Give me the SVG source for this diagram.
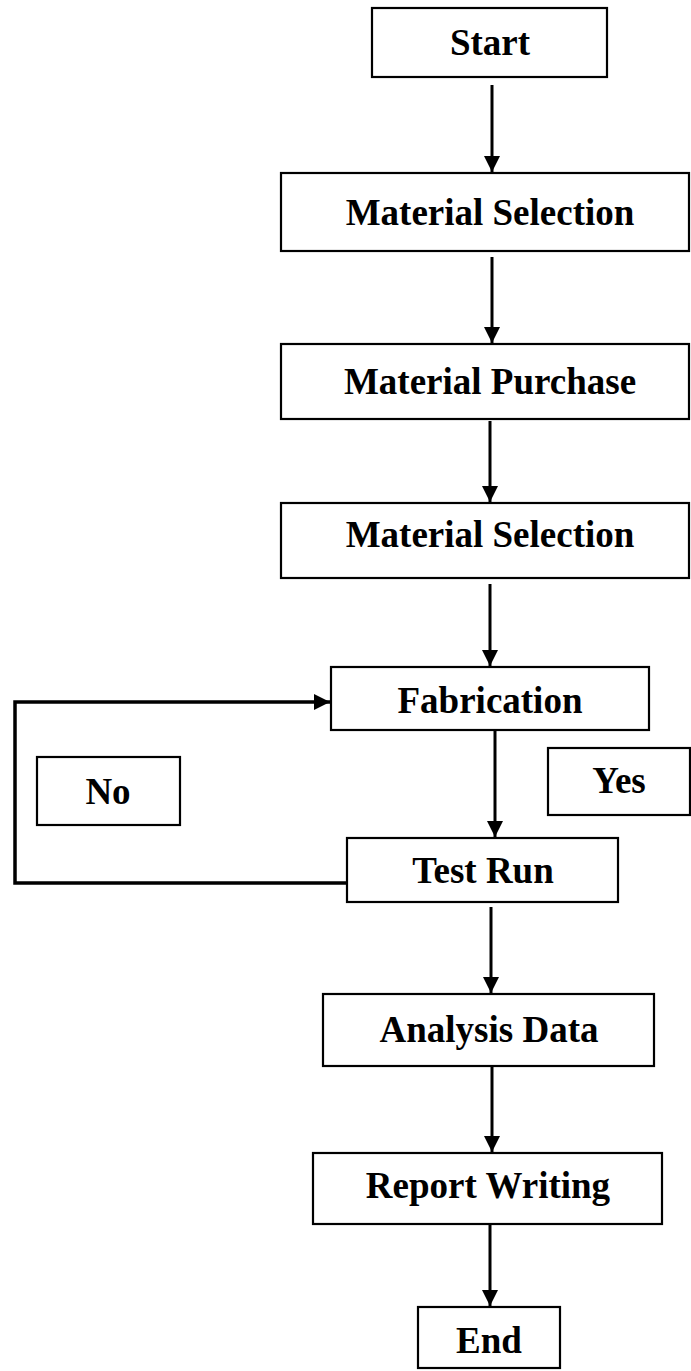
<svg xmlns="http://www.w3.org/2000/svg" width="691" height="1371" viewBox="0 0 691 1371">
  <style>
    .box { fill: #ffffff; stroke: #000000; stroke-width: 2.2; }
    .lbl { font-family: "Liberation Serif", "Times New Roman", serif; font-weight: bold; font-size: 37px; fill: #000000; text-anchor: middle; }
    .conn { fill: none; stroke: #000000; stroke-width: 3; }
    .loop { fill: none; stroke: #000000; stroke-width: 3.5; }
  </style>
  <defs>
    <marker id="arrow" markerUnits="userSpaceOnUse" markerWidth="16" markerHeight="16" refX="16" refY="8" orient="auto">
      <path d="M0,0 L16,8 L0,16 z" fill="#000000"/>
    </marker>
  </defs>
  <rect x="0" y="0" width="691" height="1371" fill="#ffffff"/>

  <g id="connectors">
    <line class="conn" x1="492" y1="85" x2="492" y2="172" marker-end="url(#arrow)"/>
    <line class="conn" x1="492" y1="257" x2="492" y2="343" marker-end="url(#arrow)"/>
    <line class="conn" x1="490" y1="421" x2="490" y2="502" marker-end="url(#arrow)"/>
    <line class="conn" x1="490" y1="584" x2="490" y2="666" marker-end="url(#arrow)"/>
    <line class="conn" x1="495" y1="731" x2="495" y2="837" marker-end="url(#arrow)"/>
    <line class="conn" x1="491" y1="907" x2="491" y2="993" marker-end="url(#arrow)"/>
    <line class="conn" x1="492" y1="1067" x2="492" y2="1152" marker-end="url(#arrow)"/>
    <line class="conn" x1="490" y1="1225" x2="490" y2="1306" marker-end="url(#arrow)"/>
    <polyline class="loop" points="347,883 15,883 15,702 330,702" marker-end="url(#arrow)"/>
  </g>

  <g id="start">
    <rect class="box" x="372" y="8" width="235" height="69"/>
    <text class="lbl" x="490" y="55">Start</text>
  </g>
  <g id="material-selection-1">
    <rect class="box" x="281" y="173" width="408" height="78"/>
    <text class="lbl" x="490" y="225">Material Selection</text>
  </g>
  <g id="material-purchase">
    <rect class="box" x="281" y="344" width="408" height="75"/>
    <text class="lbl" x="490" y="394">Material Purchase</text>
  </g>
  <g id="material-selection-2">
    <rect class="box" x="281" y="503" width="408" height="75"/>
    <text class="lbl" x="490" y="547">Material Selection</text>
  </g>
  <g id="fabrication">
    <rect class="box" x="331" y="667" width="318" height="63"/>
    <text class="lbl" x="490" y="713">Fabrication</text>
  </g>
  <g id="no">
    <rect class="box" x="37" y="757" width="143" height="68"/>
    <text class="lbl" x="108" y="804">No</text>
  </g>
  <g id="yes">
    <rect class="box" x="548" y="748" width="142" height="67"/>
    <text class="lbl" x="619" y="793">Yes</text>
  </g>
  <g id="test-run">
    <rect class="box" x="347" y="838" width="271" height="64"/>
    <text class="lbl" x="483" y="883">Test Run</text>
  </g>
  <g id="analysis-data">
    <rect class="box" x="323" y="994" width="331" height="72"/>
    <text class="lbl" x="489" y="1042">Analysis Data</text>
  </g>
  <g id="report-writing">
    <rect class="box" x="313" y="1153" width="349" height="71"/>
    <text class="lbl" x="488" y="1198">Report Writing</text>
  </g>
  <g id="end">
    <rect class="box" x="418" y="1307" width="142" height="61"/>
    <text class="lbl" x="489" y="1353">End</text>
  </g>
</svg>
